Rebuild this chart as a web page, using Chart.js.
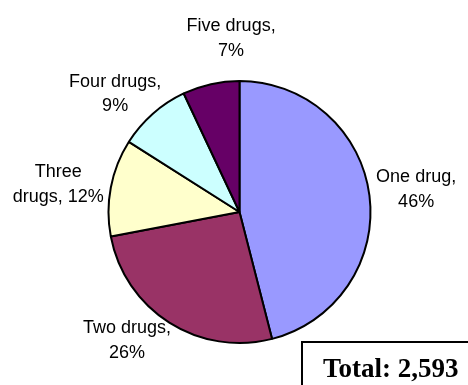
<!DOCTYPE html>
<html>
<head>
<meta charset="utf-8">
<script src="https://cdn.jsdelivr.net/npm/chart.js@4/dist/chart.umd.min.js"></script>
<style>
  html, body { margin: 0; padding: 0; background: #fff; }
  #grafico { display: block; }
</style>
</head>
<body>
<canvas id="grafico" width="468" height="385"></canvas>
<script>
const categorias = ["One drug", "Two drugs", "Three drugs", "Four drugs", "Five drugs"];
const porcentajes = [46, 26, 12, 9, 7];
const colores = ["#9999FF", "#993366", "#FFFFCC", "#CCFFFF", "#660066"];
const totalTexto = "Total: 2,593";

// ajuste fino de cada etiqueta respecto a su posicion radial
const desplazamientos = [[2, -3], [-16, -3], [-3, 2], [-4, -1], [31, -21]];

const fuenteEtiqueta = '18px "Liberation Sans", Arial, sans-serif';
const altoLinea = 24.5;
const anchoMaximo = 96;

function partirTexto(ctx, texto) {
  const palabras = texto.split(" ");
  const lineas = [];
  let actual = "";
  palabras.forEach((p) => {
    const prueba = actual ? actual + " " + p : p;
    if (actual && ctx.measureText(prueba).width > anchoMaximo) {
      lineas.push(actual);
      actual = p;
    } else {
      actual = prueba;
    }
  });
  if (actual) lineas.push(actual);
  return lineas;
}

const etiquetasPlugin = {
  id: "etiquetas",
  afterDraw(chart) {
    const ctx = chart.ctx;
    const arcos = chart.getDatasetMeta(0).data;
    ctx.save();
    ctx.font = fuenteEtiqueta;
    ctx.fillStyle = "#000";
    ctx.textAlign = "center";
    ctx.textBaseline = "middle";

    arcos.forEach((arco, i) => {
      const { x, y, startAngle, endAngle, outerRadius } = arco.getProps(
        ["x", "y", "startAngle", "endAngle", "outerRadius"], true
      );
      const medio = (startAngle + endAngle) / 2;
      const dx = Math.cos(medio);
      const dy = Math.sin(medio);
      const lineas = partirTexto(ctx, `${categorias[i]}, ${porcentajes[i]}%`);
      const anchoTexto = Math.max(...lineas.map((l) => ctx.measureText(l).width));
      const mitadAlto = 20;
      const cx = x + (outerRadius + 5) * dx + dx * anchoTexto / 2 + desplazamientos[i][0];
      const cy = y + (outerRadius + 5) * dy + dy * mitadAlto + desplazamientos[i][1];
      const inicioY = cy - (lineas.length - 1) * altoLinea / 2;
      lineas.forEach((l, k) => {
        ctx.fillText(l, cx, inicioY + k * altoLinea);
      });
    });

    // recuadro con el total
    ctx.lineWidth = 2;
    ctx.strokeStyle = "#000";
    ctx.strokeRect(302, 342, 200, 100);
    ctx.font = 'bold 27px "Liberation Serif", "Times New Roman", serif';
    ctx.textAlign = "left";
    ctx.textBaseline = "alphabetic";
    ctx.fillText(totalTexto, 323, 377);
    ctx.restore();
  }
};

new Chart(document.getElementById("grafico"), {
  type: "pie",
  data: {
    labels: categorias,
    datasets: [
      {
        data: porcentajes,
        backgroundColor: colores,
        borderColor: "#000",
        borderWidth: 2
      }
    ]
  },
  options: {
    responsive: false,
    animation: false,
    radius: 131,
    layout: {
      padding: { left: 11, right: 0, top: 39, bottom: 0 }
    },
    plugins: {
      legend: { display: false },
      tooltip: { enabled: false }
    }
  },
  plugins: [etiquetasPlugin]
});
</script>
</body>
</html>
